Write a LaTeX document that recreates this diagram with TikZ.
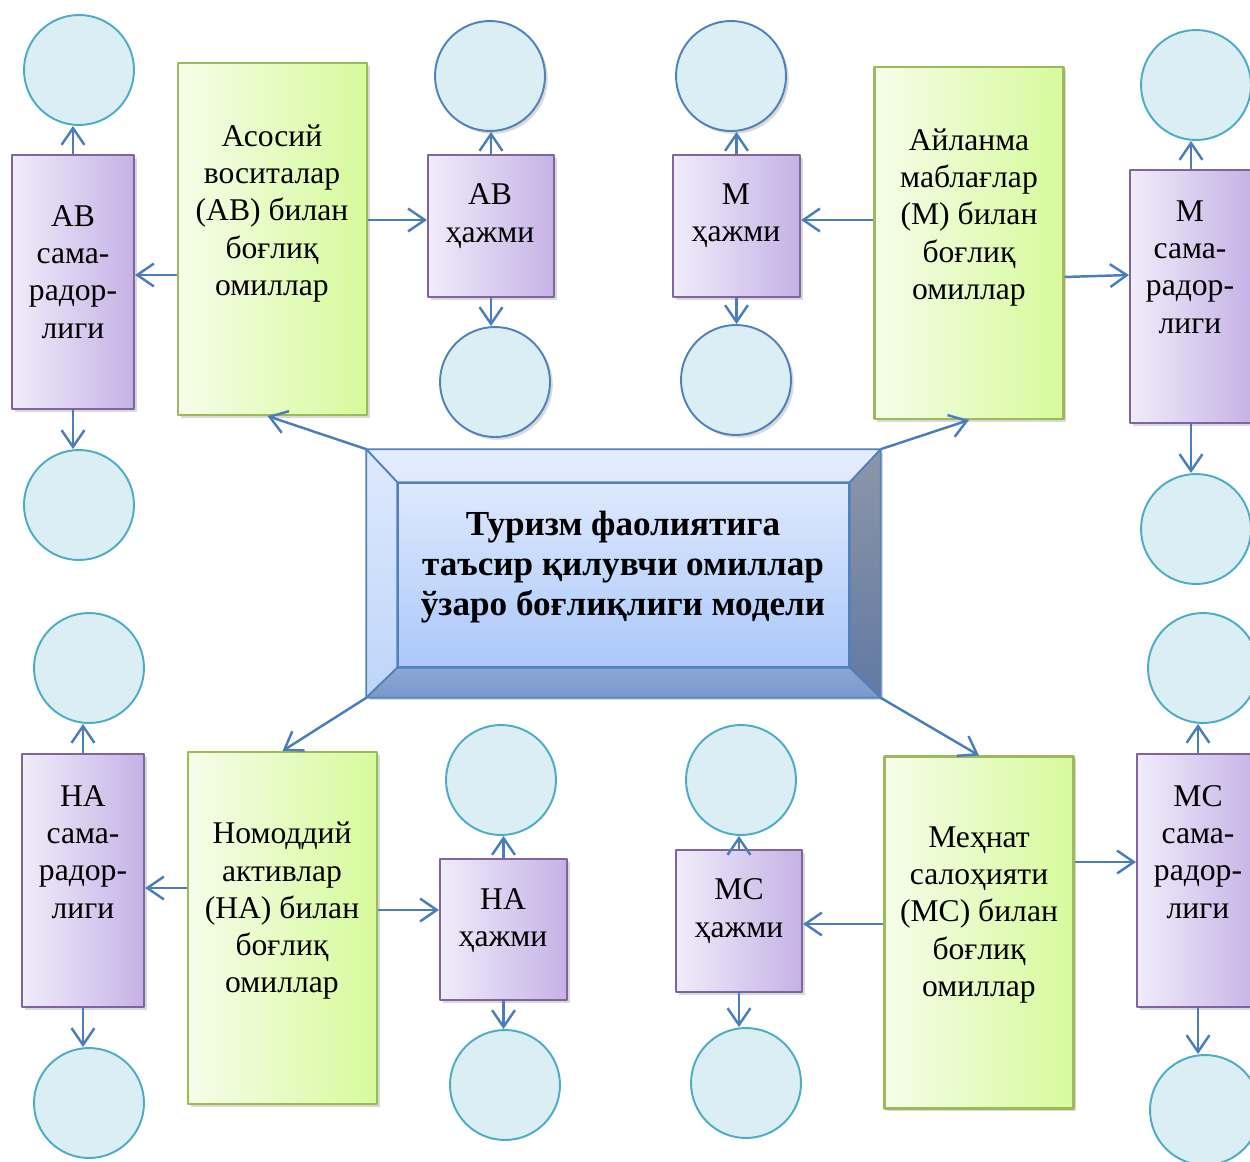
\documentclass[tikz,border=0pt]{standalone}
\usepackage{fontspec}
\setmainfont{Liberation Serif}
\usetikzlibrary{arrows.meta,shadows}
\definecolor{arrblue}{RGB}{74,126,187}
\definecolor{purpbord}{RGB}{128,100,162}
\definecolor{purpL}{RGB}{240,236,250}
\definecolor{purpR}{RGB}{197,178,229}
\definecolor{greenbord}{RGB}{155,187,89}
\definecolor{greenL}{RGB}{245,253,233}
\definecolor{greenR}{RGB}{215,250,155}
\definecolor{ballfill}{RGB}{218,238,243}
\definecolor{ballteal}{RGB}{75,172,198}
\definecolor{ballblue}{RGB}{79,129,189}
\definecolor{bevblue}{RGB}{79,129,189}
\definecolor{inTop}{RGB}{222,233,253}
\definecolor{inBot}{RGB}{170,200,250}
\tikzset{
	arr/.style={draw=arrblue, line width=1.4pt, -{Straight Barb[length=9.5pt,width=13pt]}},
	shad/.style={drop shadow={shadow xshift=1.6pt, shadow yshift=-1.6pt, opacity=0.3}},
	pbox/.style={draw=purpbord, line width=1.2pt, left color=purpL, right color=purpR, inner sep=0pt, minimum width=2.44cm, shad},
	gbox/.style={draw=greenbord, line width=1.2pt, left color=greenL, right color=greenR, inner sep=0pt, minimum width=3.78cm, minimum height=7.04cm, shad},
	txt/.style={align=center, inner sep=0pt, font=\fontsize{18}{21.2}\selectfont},
	ball/.style={circle, draw=ballteal, line width=1.1pt, fill=ballfill, minimum size=2.2cm, inner sep=0pt},
	bball/.style={ball, draw=ballblue, shad}
}
\begin{document}
\begin{tikzpicture}[x=0.02cm, y=-0.02cm, line join=round]
	\useasboundingbox (0,0) rectangle (1250,1162);
	% центральный блок
	\node[draw=bevblue, line width=1pt, fill=inTop, minimum width=10.26cm, minimum height=4.94cm, inner sep=0pt, shad] (model) at (623.5,573.5) {};
	\node[draw=bevblue, line width=1pt, top color=inTop, bottom color=inBot, minimum width=9.02cm, minimum height=3.68cm, inner sep=0pt] (modelin) at (623.5,575) {};
	\shadedraw[draw=bevblue, line width=1pt, top color=white!20!inTop, bottom color=inTop] (model.north west)--(model.north east)--(modelin.north east)--(modelin.north west)--cycle;
	\shadedraw[draw=bevblue, line width=1pt, top color={rgb,255:red,222;green,233;blue,253}, bottom color={rgb,255:red,190;green,213;blue,249}] (model.north west)--(modelin.north west)--(modelin.south west)--(model.south west)--cycle;
	\shadedraw[draw=bevblue, line width=1pt, top color={rgb,255:red,140;green,150;blue,168}, bottom color={rgb,255:red,98;green,121;blue,163}] (model.north east)--(model.south east)--(modelin.south east)--(modelin.north east)--cycle;
	\shadedraw[draw=bevblue, line width=1pt, top color={rgb,255:red,140;green,166;blue,214}, bottom color={rgb,255:red,122;green,152;blue,205}] (model.south west)--(modelin.south west)--(modelin.south east)--(model.south east)--cycle;
	\node[txt, font=\fontsize{20}{22.7}\selectfont\bfseries] (modelt) at (623,567) {Туризм фаолиятига\\таъсир қилувчи омиллар\\ўзаро боғлиқлиги модели};
	% омиллар
	\node[gbox] (asosiy) at (272.5,239) {};
	\node[gbox] (aylanma) at (969,243) {};
	\node[gbox] (nomod) at (282.5,928) {};
	\node[gbox] (mehnat) at (979,932.5) {};
	\node[txt] (asosiyt) at (272,213.5) {Асосий\\воситалар\\(АВ) билан\\боғлиқ\\омиллар};
	\node[txt] (aylanmat) at (969,217.5) {Айланма\\маблағлар\\(М) билан\\боғлиқ\\омиллар};
	\node[txt] (nomodt) at (282,911) {Номоддий\\активлар\\(НА) билан\\боғлиқ\\омиллар};
	\node[txt] (mehnatt) at (979,915) {Меҳнат\\салоҳияти\\(МС) билан\\боғлиқ\\омиллар};
	% самарадорлик ва ҳажм
	\node[pbox, minimum height=5.08cm] (avsam) at (73,282) {};
	\node[pbox, minimum height=2.84cm, minimum width=2.52cm] (avhaj) at (491,226) {};
	\node[pbox, minimum height=2.84cm, minimum width=2.54cm] (mhaj) at (736.5,226) {};
	\node[pbox, minimum height=5.06cm] (msam) at (1191,296.5) {};
	\node[pbox, minimum height=5.06cm] (nasam) at (83,880.5) {};
	\node[pbox, minimum height=2.82cm, minimum width=2.54cm] (nahaj) at (503.5,929.5) {};
	\node[pbox, minimum height=2.84cm, minimum width=2.52cm] (mshaj) at (739,921) {};
	\node[pbox, minimum height=5.06cm] (mssam) at (1198,880.5) {};
	\node[txt] (avsamt) at (73,272) {АВ\\сама-\\радор-\\лиги};
	\node[txt] (avhajt) at (490,216) {АВ\\ҳажми};
	\node[txt] (mhajt) at (736,215.5) {М\\ҳажми};
	\node[txt] (msamt) at (1190,267) {М\\сама-\\радор-\\лиги};
	\node[txt] (nasamt) at (83,852) {НА\\сама-\\радор-\\лиги};
	\node[txt] (nahajt) at (503,920.5) {НА\\ҳажми};
	\node[txt] (mshajt) at (739,911) {МС\\ҳажми};
	\node[txt] (mssamt) at (1198,852) {МС\\сама-\\радор-\\лиги};
	% доиралар
	\foreach \n/\s/\xa/\ya/\xb/\yb in {avsam/ball/79/70/79/505, avhaj/bball/490/76/495/382, mhaj/bball/731/76/736/380, msam/ball/1196/85/1196/529, nasam/ball/89/668/89/1103, nahaj/ball/501/780/505/1085, mshaj/ball/741/780/746/1083, mssam/ball/1203/668/1205/1110}{
		\node[\s] (\n1) at (\xa,\ya) {};
		\node[\s] (\n2) at (\xb,\yb) {};
		\draw[arr] (\n.north)--(\n.north |- \n1.south);
		\draw[arr] (\n.south)--(\n.south |- \n2.north);
	}
	% боғланишлар
	\draw[arr] (model.north west)--([xshift=-0.1cm]asosiy.south);
	\draw[arr] (model.north east)--(aylanma.south);
	\draw[arr] (model.south west)--(nomod.north);
	\draw[arr] (model.south east)--(mehnat.north);
	\draw[arr] ([yshift=-0.72cm]asosiy.west) coordinate (p1)--(p1 -| avsam.east);
	\draw[arr] ([yshift=0.38cm]asosiy.east) coordinate (p2)--(p2 -| avhaj.west);
	\draw[arr] ([yshift=0.46cm]aylanma.west) coordinate (p3)--(p3 -| mhaj.east);
	\draw[arr] ([yshift=-0.68cm]aylanma.east)--([yshift=0.43cm]msam.west);
	\draw[arr] ([yshift=0.8cm]nomod.west) coordinate (p5)--(p5 -| nasam.east);
	\draw[arr] ([yshift=0.36cm]nomod.east) coordinate (p6)--(p6 -| nahaj.west);
	\draw[arr] ([yshift=0.17cm]mehnat.west) coordinate (p7)--(p7 -| mshaj.east);
	\draw[arr] ([yshift=1.41cm]mehnat.east) coordinate (p8)--(p8 -| mssam.west);
\end{tikzpicture}
\end{document}
